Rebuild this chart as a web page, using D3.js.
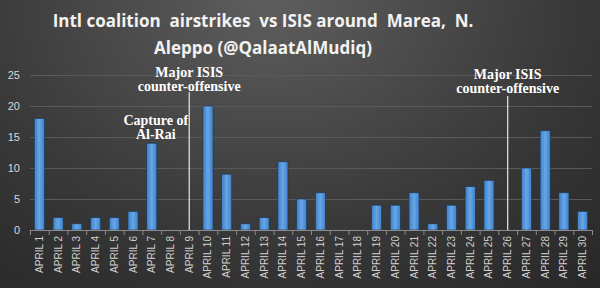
<!DOCTYPE html>
<html>
<head>
<meta charset="utf-8">
<script src="https://cdn.jsdelivr.net/npm/d3@7/dist/d3.min.js"></script>
<style>
  html, body { margin: 0; padding: 0; background: #2a2a2a; }
  svg { display: block; }
</style>
</head>
<body>
<div id="chart"></div>
<script>
// airstrikes per day, April
const days = d3.range(1, 31).map(d => "APRIL " + d)
const strikes = [18, 2, 1, 2, 2, 3, 14, 0, 0, 20, 9, 1, 2, 11, 5, 6, 0, 0, 4, 4, 6, 1, 4, 7, 8, 0, 10, 16, 6, 3]
const yTicks = [0, 5, 10, 15, 20, 25]
const titleLines = ["Intl coalition  airstrikes  vs ISIS around  Marea,  N.", "Aleppo (@QalaatAlMudiq)"]
// vertical marker lines and text notes
const markers = ["APRIL 9", "APRIL 26"]
const notes = [
    { day: "APRIL 9", lines: ["Major ISIS", "counter-offensive"], value: 24.6 },
    { day: "APRIL 26", lines: ["Major ISIS", "counter-offensive"], value: 24.3 },
    { day: "APRIL 7", lines: ["Capture of", "Al-Rai"], value: 16.9, dx: 4 }
]

const width = 600, height = 288
const margin = { top: 75, right: 8, bottom: 58, left: 30 }

const svg = d3.select("#chart").append("svg")
    .attr("width", width)
    .attr("height", height)

const defs = svg.append("defs")
const bg = defs.append("radialGradient")
    .attr("id", "bg")
    .attr("cx", "45%").attr("cy", "0%").attr("r", "85%")
    .attr("gradientTransform", "scale(1,1.6)")
bg.append("stop").attr("offset", "0%").attr("stop-color", "#5e5e5e")
bg.append("stop").attr("offset", "60%").attr("stop-color", "#383838")
bg.append("stop").attr("offset", "100%").attr("stop-color", "#262626")

const barGrad = defs.append("linearGradient").attr("id", "bar")
barGrad.append("stop").attr("offset", "0%").attr("stop-color", "#3f7fc8")
barGrad.append("stop").attr("offset", "50%").attr("stop-color", "#67a6e6")
barGrad.append("stop").attr("offset", "100%").attr("stop-color", "#3f7fc8")

svg.append("rect").attr("width", width).attr("height", height).attr("fill", "url(#bg)")

const x = d3.scaleBand()
    .domain(days)
    .range([margin.left, width - margin.right])
    .paddingInner(0.46)
    .paddingOuter(0.23)

const y = d3.scaleLinear()
    .domain([0, 25])
    .range([height - margin.bottom, margin.top])

// gridlines
svg.append("g")
    .selectAll("line")
    .data(yTicks.slice(1))
    .join("line")
    .attr("x1", margin.left)
    .attr("x2", width - margin.right)
    .attr("y1", d => y(d) + 0.5)
    .attr("y2", d => y(d) + 0.5)
    .attr("stroke", "#5a5a5a")
    .attr("stroke-width", 1)

// y labels
svg.append("g")
    .selectAll("text")
    .data(yTicks)
    .join("text")
    .attr("x", 20)
    .attr("y", d => y(d) + 4)
    .attr("text-anchor", "end")
    .attr("fill", "#d8d8d8")
    .style("font", "11px 'Liberation Sans', Arial, sans-serif")
    .text(d => d)

// bars
svg.append("g")
    .selectAll("rect")
    .data(strikes)
    .join("rect")
    .attr("x", (d, i) => x(days[i]))
    .attr("y", d => y(d))
    .attr("width", x.bandwidth())
    .attr("height", d => y(0) - y(d))
    .attr("fill", "url(#bar)")
    .attr("stroke", "#1c3552")
    .attr("stroke-width", 0.6)
    .attr("opacity", d => d === 0 ? 0 : 1)

// x axis
const xAxis = d3.axisBottom(x).tickSize(0)
const gx = svg.append("g")
    .attr("transform", `translate(0,${y(0)})`)
    .call(xAxis)
gx.select(".domain").attr("stroke", "#8a8a8a")
// tick marks at category boundaries
const edge0 = x(days[0]) - x.step() * x.paddingInner() / 2
gx.append("g")
    .selectAll("line")
    .data(d3.range(days.length + 1))
    .join("line")
    .attr("x1", i => edge0 + i * x.step() + 0.5)
    .attr("x2", i => edge0 + i * x.step() + 0.5)
    .attr("y1", 0)
    .attr("y2", 5)
    .attr("stroke", "#8a8a8a")
gx.selectAll(".tick text")
    .attr("transform", "rotate(-90)")
    .attr("text-anchor", "end")
    .attr("x", -6)
    .attr("y", 0)
    .attr("dy", "0.35em")
    .attr("fill", "#d0d0d0")
    .style("font", "10px 'Liberation Sans', Arial, sans-serif")

// markers
svg.append("g")
    .selectAll("line")
    .data(markers)
    .join("line")
    .attr("x1", d => x(d) + x.bandwidth() / 2)
    .attr("x2", d => x(d) + x.bandwidth() / 2)
    .attr("y1", (d, i) => y(i === 0 ? 22.2 : 21.6))
    .attr("y2", y(0))
    .attr("stroke", "#e8e8e8")
    .attr("stroke-width", 1.2)

// notes
const noteG = svg.append("g")
    .selectAll("text")
    .data(notes)
    .join("text")
    .attr("x", d => x(d.day) + x.bandwidth() / 2 + (d.dx || 0))
    .attr("y", d => y(d.value))
    .attr("text-anchor", "middle")
    .attr("fill", "#ffffff")
    .style("font", "bold 14px 'Liberation Serif', 'Times New Roman', serif")
noteG.selectAll("tspan")
    .data(d => d.lines)
    .join("tspan")
    .attr("x", function () { return d3.select(this.parentNode).attr("x") })
    .attr("dy", (d, i) => i === 0 ? 0 : 13.5)
    .text(d => d)

// title
svg.append("g")
    .selectAll("text")
    .data(titleLines)
    .join("text")
    .attr("x", 263)
    .attr("y", (d, i) => 27 + i * 27)
    .attr("text-anchor", "middle")
    .attr("fill", "#f2f2f2")
    .style("font", "bold 17px 'Open Sans', 'DejaVu Sans', sans-serif")
    .style("white-space", "pre")
    .text(d => d)
</script>
</body>
</html>
